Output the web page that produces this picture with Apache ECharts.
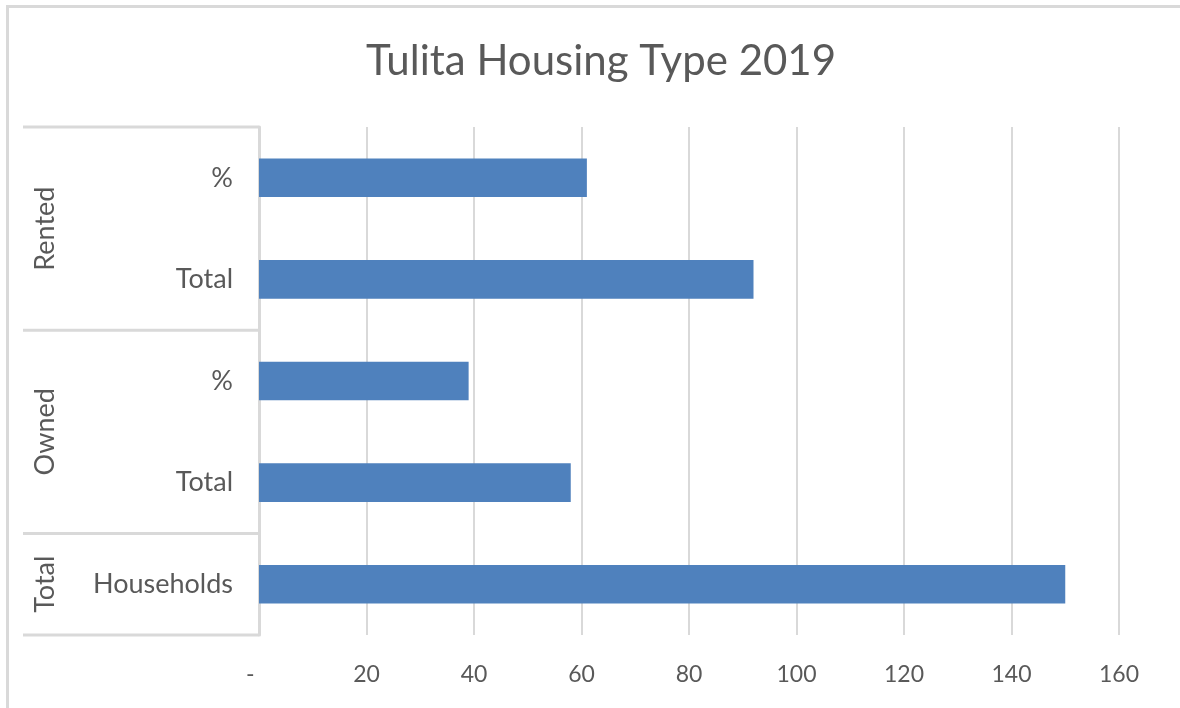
<!DOCTYPE html>
<html>
<head>
<meta charset="utf-8">
<title>Tulita Housing Type 2019</title>
<script src="https://cdn.jsdelivr.net/npm/echarts@6/dist/echarts.min.js"></script>
<style>
  html, body { margin: 0; padding: 0; background: #ffffff; }
  #chart { width: 1180px; height: 708px; }
</style>
</head>
<body>
<div id="chart"></div>
<script>
// Two-level category axis: outer group and inner item, top to bottom
const categoryGroups = ['Rented', 'Rented', 'Owned', 'Owned', 'Total'];
const categoryItems = ['%', 'Total', '%', 'Total', 'Households'];
const values = [61, 92, 39, 58, 150];
const tickValues = [0, 20, 40, 60, 80, 100, 120, 140, 160];

const TEXT = '#595959';
const LINE = '#d9d9d9';
const FONT = 'Lato, "Noto Sans", sans-serif';

const categoryKeys = categoryGroups.map((g, i) => g + '|' + categoryItems[i]);

const chart = echarts.init(document.getElementById('chart'), null, { renderer: 'canvas' });

const option = {
  backgroundColor: '#ffffff',
  animation: false,
  title: {
    text: 'Tulita Housing Type 2019',
    left: 596,
    textAlign: 'center',
    top: 35,
    textStyle: { color: TEXT, fontFamily: FONT, fontSize: 42, fontWeight: 'normal' }
  },
  grid: { left: 259, right: 61, top: 127, bottom: 73, containLabel: false },
  xAxis: {
    type: 'value',
    min: tickValues[0],
    max: tickValues[tickValues.length - 1],
    interval: 20,
    axisLine: { show: false },
    axisTick: { show: false },
    splitLine: { show: true, lineStyle: { color: LINE, width: 2 } },
    axisLabel: {
      color: TEXT, fontFamily: FONT, fontSize: 23, margin: 28,
      formatter: v => (v === 0 ? '-   ' : String(v))
    }
  },
  yAxis: {
    type: 'category',
    inverse: true,
    data: categoryKeys,
    axisLine: { show: true, lineStyle: { color: LINE, width: 3 } },
    axisTick: { show: false },
    axisLabel: {
      color: TEXT, fontFamily: FONT, fontSize: 27, margin: 26,
      formatter: v => v.split('|')[1]
    }
  },
  series: [{
    type: 'bar',
    data: values,
    barWidth: '38%',
    itemStyle: { color: '#4f81bd' }
  }]
};

chart.setOption(option);

// Outer category box: separators between groups and rotated group names
function drawGroups() {
  const py = i => chart.convertToPixel({ yAxisIndex: 0 }, categoryKeys[i]);
  const band = py(1) - py(0);
  const axisX = chart.convertToPixel({ xAxisIndex: 0 }, 0);
  const boxLeft = 23;
  const elements = [];

  // Chart frame (top and left edges)
  elements.push({ type: 'line', shape: { x1: 6, y1: 6.5, x2: 1180, y2: 6.5 },
    style: { stroke: LINE, lineWidth: 3 }, silent: true });
  elements.push({ type: 'line', shape: { x1: 7.5, y1: 5, x2: 7.5, y2: 708 },
    style: { stroke: LINE, lineWidth: 3 }, silent: true });

  let start = 0;
  const hLine = y => ({ type: 'line', shape: { x1: boxLeft, y1: y, x2: axisX, y2: y },
    style: { stroke: LINE, lineWidth: 3 }, silent: true });
  elements.push(hLine(py(0) - band / 2));
  for (let i = 1; i <= categoryGroups.length; i++) {
    if (i === categoryGroups.length || categoryGroups[i] !== categoryGroups[start]) {
      const top = py(start) - band / 2;
      const bottom = py(i - 1) + band / 2;
      elements.push(hLine(bottom));
      elements.push({
        type: 'text',
        x: 45, y: (top + bottom) / 2,
        rotation: Math.PI / 2,
        style: {
          text: categoryGroups[start],
          fill: TEXT, font: '27px ' + FONT,
          textAlign: 'center', textVerticalAlign: 'middle'
        },
        silent: true
      });
      start = i;
    }
  }
  chart.setOption({ graphic: { elements } });
}
drawGroups();
</script>
</body>
</html>
